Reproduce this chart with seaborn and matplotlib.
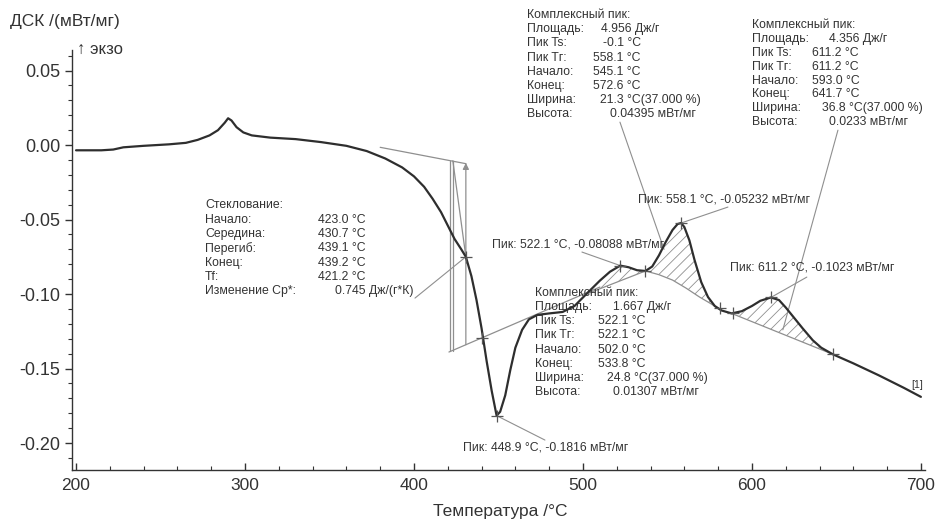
import numpy as np
import pandas as pd
import matplotlib
matplotlib.use("Agg")
import matplotlib.pyplot as plt
import seaborn as sns
from matplotlib.ticker import MultipleLocator, FormatStrFormatter

# ---------------- data ----------------
temperature = [200, 215, 222, 228, 240, 255, 265, 272, 279, 284, 288, 290, 292, 295, 299,
               304, 315, 330, 345, 360, 372, 383, 393, 400, 406, 411, 416, 420, 424, 428,
               430.7, 434, 437, 440, 443, 446, 448.9, 451, 454, 457, 460, 464, 468, 473,
               480, 488, 495, 502, 510, 516, 522.1, 527, 532, 537, 541, 545, 549, 553,
               556, 558.1, 560, 563, 566, 570, 574, 578, 582, 588, 594, 600, 605, 611.2,
               616, 620, 625, 630, 636, 641, 648, 660, 675, 690, 700]
dsc = [-0.0035, -0.0035, -0.0030, -0.0015, -0.0005, 0.0005, 0.0015, 0.0035, 0.0065, 0.0100,
       0.0150, 0.0180, 0.0165, 0.0120, 0.0085, 0.0065, 0.0050, 0.0040, 0.0020, -0.0005,
       -0.0040, -0.0090, -0.0150, -0.0210, -0.0280, -0.0360, -0.0450, -0.0540, -0.0630,
       -0.0700, -0.0750, -0.0880, -0.1040, -0.1230, -0.1450, -0.1650, -0.1816, -0.1790,
       -0.1680, -0.1510, -0.1360, -0.1240, -0.1170, -0.1140, -0.1130, -0.1120, -0.1080,
       -0.1000, -0.0910, -0.0850, -0.0809, -0.0820, -0.0840, -0.0845, -0.0815, -0.0740,
       -0.0650, -0.0570, -0.0530, -0.0523, -0.0550, -0.0640, -0.0770, -0.0920, -0.1020,
       -0.1080, -0.1110, -0.1130, -0.1115, -0.1080, -0.1045, -0.1023, -0.1040, -0.1090,
       -0.1160, -0.1230, -0.1310, -0.1360, -0.1405, -0.1465, -0.1545, -0.1630, -0.1690]

# peak integration ranges and baselines
peak_ranges = [(502, 537), (537, 582), (588, 648)]
peak_baselines = [
    ([537, 502], [-0.0845, -0.1000]),
    ([582, 575, 569, 561, 553, 545, 537], [-0.1110, -0.1060, -0.1020, -0.0960, -0.0906, -0.0870, -0.0845]),
    ([648, 588], [-0.1405, -0.1130]),
]

# characteristic points (crosses)
mark_T = [430.7, 440.5, 448.9, 522.1, 537, 558.1, 581, 589, 611.2, 648]
mark_v = [-0.075, -0.1295, -0.1816, -0.0809, -0.0845, -0.0523, -0.1095, -0.1130, -0.1023, -0.1400]

# glass transition construction
glass_upper_T, glass_upper_v = [380, 430.8], [-0.0015, -0.0125]
glass_lower_T, glass_lower_v = [420.7, 510.0], [-0.1389, -0.0953]
glass_onset_T = [421.2, 423.0]
glass_mid_T = 430.7

glass_labels = ["Стеклование:", "Начало:", "Середина:", "Перегиб:", "Конец:", "Tf:", "Изменение Cp*:"]
glass_values = ["", "423.0 °C", "430.7 °C", "439.1 °C", "439.2 °C", "421.2 °C", "0.745 Дж/(г*К)"]

box_labels = ["Комплексный пик:", "Площадь:", "Пик Ts:", "Пик Tг:", "Начало:", "Конец:", "Ширина:", "Высота:"]
box1_values = ["", "4.956 Дж/г", "-0.1 °C", "558.1 °C", "545.1 °C", "572.6 °C", "21.3 °C(37.000 %)", "0.04395 мВт/мг"]
box2_values = ["", "4.356 Дж/г", "611.2 °C", "611.2 °C", "593.0 °C", "641.7 °C", "36.8 °C(37.000 %)", "0.0233 мВт/мг"]
box3_values = ["", "1.667 Дж/г", "522.1 °C", "522.1 °C", "502.0 °C", "533.8 °C", "24.8 °C(37.000 %)", "0.01307 мВт/мг"]

peak_texts = ["Пик: 448.9 °C, -0.1816 мВт/мг", "Пик: 522.1 °C, -0.08088 мВт/мг",
              "Пик: 558.1 °C, -0.05232 мВт/мг", "Пик: 611.2 °C, -0.1023 мВт/мг"]

x_ticks = [200, 300, 400, 500, 600, 700]
y_ticks = [0.05, 0.00, -0.05, -0.10, -0.15, -0.20]

# ---------------- style ----------------
sns.set_theme(style="white")
plt.rcParams['font.family'] = ['Liberation Sans', 'DejaVu Sans']
plt.rcParams['hatch.linewidth'] = 0.6
plt.rcParams['hatch.color'] = '#8c8c8c'

CURVE = '#2e2e2e'
THIN = '#8f8f8f'
TXT = '#333333'
FS = 8.8

fig = plt.figure(figsize=(9.36, 5.19), dpi=100)
ax = fig.add_axes([0.0769, 0.0944, 0.9113, 0.8092])

df = pd.DataFrame({"T": temperature, "DSC": dsc})
sns.lineplot(data=df, x="T", y="DSC", ax=ax, color=CURVE, lw=1.6, sort=False, zorder=5)

# hatched peaks
T_arr = np.array(temperature)
v_arr = np.array(dsc)
for (t0, t1), (bT, bv) in zip(peak_ranges, peak_baselines):
    m = (T_arr >= t0) & (T_arr <= t1)
    px = list(T_arr[m]) + bT
    py = list(v_arr[m]) + bv
    ax.fill(px, py, facecolor='none', edgecolor=THIN, hatch='///', lw=0, zorder=2)
    ax.plot(bT, bv, color=THIN, lw=0.9, zorder=3)

# glass transition construction lines
ax.plot(glass_upper_T, glass_upper_v, color=THIN, lw=0.9)
ax.plot(glass_lower_T, glass_lower_v, color=THIN, lw=0.9)
for t in glass_onset_T:
    ax.plot([t, t], [-0.0105, -0.1382], color=THIN, lw=0.9)
ax.plot([423.0, glass_mid_T], [-0.0105, -0.075], color=THIN, lw=0.9)
ax.annotate("", xy=(glass_mid_T, -0.0120), xytext=(glass_mid_T, -0.1340),
            arrowprops=dict(arrowstyle='-|>', color=THIN, lw=0.9, mutation_scale=9, shrinkA=0, shrinkB=0))

# crosses
sns.scatterplot(x=mark_T, y=mark_v, ax=ax, marker='+', s=70, color='#555555', linewidth=0.9, zorder=6)

# leader lines
leaders = [((400.6, -0.1027), (430.7, -0.0750)),
           ((448.9, -0.1816), (477.5, -0.1980)),
           ((522.1, -0.0809), (499.4, -0.0718)),
           ((558.1, -0.0523), (585.8, -0.0416)),
           ((611.2, -0.1023), (632.5, -0.0886)),
           ((521.9, 0.0154), (548.0, -0.0700)),
           ((650.9, 0.0100), (618.3, -0.1240))]
for (a, b) in leaders:
    ax.plot([a[0], b[0]], [a[1], b[1]], color=THIN, lw=0.8, zorder=1)

# text blocks
def block(labels, values, x_lab, x_vals, v0, step):
    for i, (lab, val) in enumerate(zip(labels, values)):
        y = v0 - i * step
        ax.text(x_lab, y, lab, fontsize=FS, color=TXT, va='center', ha='left', zorder=7)
        if val:
            ax.text(x_vals[i], y, val, fontsize=FS, color=TXT, va='center', ha='left', zorder=7)

block(glass_labels, glass_values, 276.3, [0, 343.2, 343.2, 343.2, 343.2, 343.2, 353.3], -0.0403, 0.00966)
block(box_labels, box1_values, 466.9, [0, 510.7, 511.8, 505.9, 505.9, 505.9, 510.1, 516.0], 0.0872, 0.0095)
block(box_labels, box2_values, 600.0, [0, 645.6, 635.3, 635.3, 635.3, 635.3, 641.2, 645.6], 0.0805, 0.0093)
block(box_labels, box3_values, 471.6, [0, 517.8, 508.9, 508.9, 508.9, 508.9, 514.2, 517.8], -0.0993, 0.0095)

peak_pos = [(429.0, -0.2027), (446.2, -0.0664), (532.5, -0.0362), (587.0, -0.0819)]
for txt, (x, y) in zip(peak_texts, peak_pos):
    ax.text(x, y, txt, fontsize=FS, color=TXT, va='center', ha='left', zorder=7)

ax.text(694.0, -0.1610, "[1]", fontsize=7.5, color=TXT, va='center', ha='left')

# axes
ax.set_xlim(197.6, 702.4)
ax.set_ylim(-0.2181, 0.0638)
ax.set_xticks(x_ticks)
ax.set_yticks(y_ticks)
ax.yaxis.set_major_formatter(FormatStrFormatter('%.2f'))
ax.xaxis.set_minor_locator(MultipleLocator(20))
ax.yaxis.set_minor_locator(MultipleLocator(0.01))
ax.set_xlabel("")
ax.set_ylabel("")
for s in ['top', 'right']:
    ax.spines[s].set_visible(False)
for s in ['left', 'bottom']:
    ax.spines[s].set_color('#333333')
    ax.spines[s].set_linewidth(1.0)
ax.tick_params(axis='y', which='both', direction='out', left=True, colors='#333333', labelsize=13)
ax.tick_params(axis='y', which='major', length=5, width=1)
ax.tick_params(axis='y', which='minor', length=3, width=0.8)
ax.tick_params(axis='x', which='both', direction='in', bottom=True, colors='#333333', labelsize=12.5, pad=6)
ax.tick_params(axis='x', which='major', length=5, width=1)
ax.tick_params(axis='x', which='minor', length=3, width=0.8)
ax.set_facecolor('white')
ax.grid(False)

fig.text(0.011, 0.958, "ДСК /(мВт/мг)", fontsize=12.5, color=TXT, va='center', ha='left')
fig.text(0.082, 0.905, "↑ экзо", fontsize=12, color=TXT, va='center', ha='left',
         family=['Liberation Sans', 'DejaVu Sans'])
fig.text(0.534, 0.014, "Температура /°C", fontsize=12.5, color=TXT, va='center', ha='center')

fig.savefig("out.png", dpi=100, facecolor='white')
